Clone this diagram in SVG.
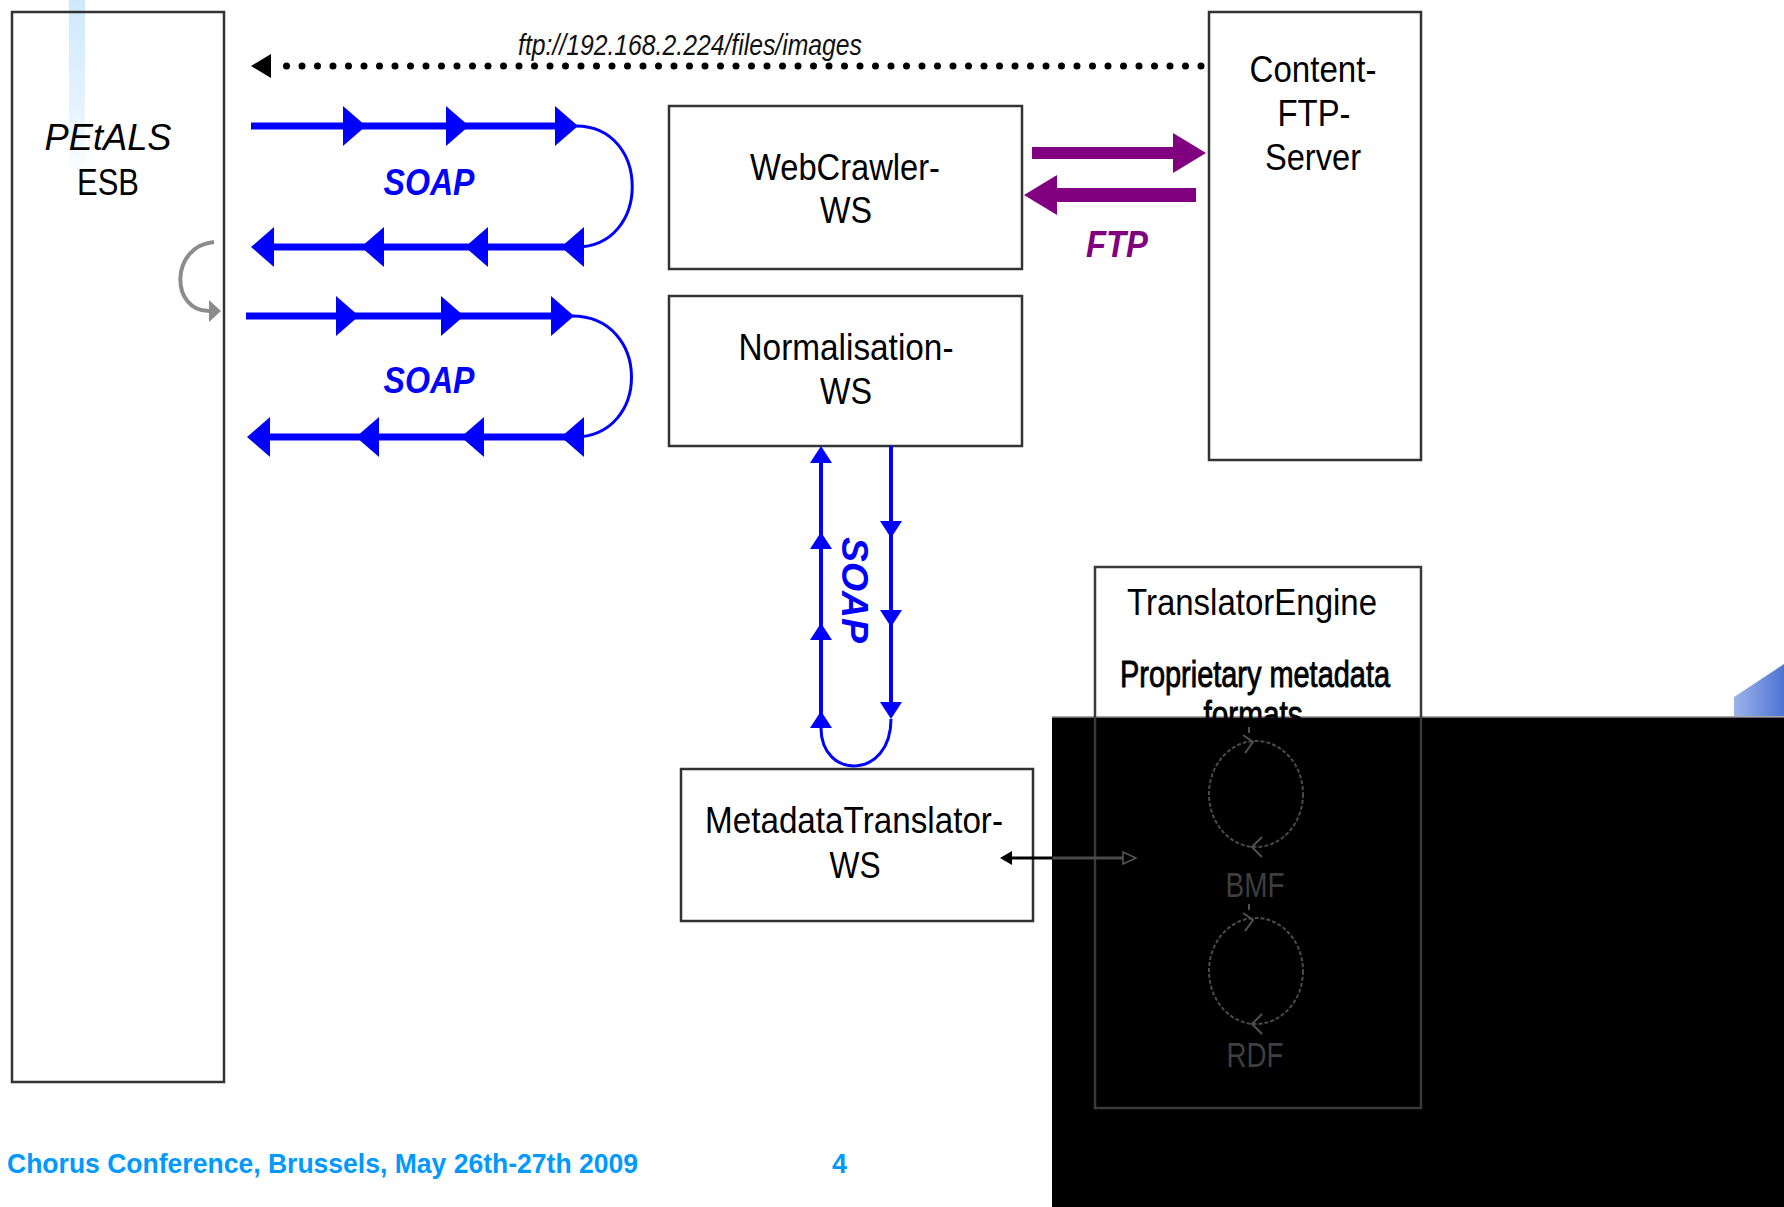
<svg xmlns="http://www.w3.org/2000/svg" width="1784" height="1207" viewBox="0 0 1784 1207">
<style>
.box{fill:none;stroke:#333;stroke-width:2.5}
.t{font-family:"Liberation Sans",Arial,sans-serif;font-size:37px;fill:#000;text-anchor:middle}
.soap{font-family:"Liberation Sans",Arial,sans-serif;font-size:37px;font-weight:bold;font-style:italic;fill:#0000ff;text-anchor:middle}
.ftp{font-family:"Liberation Sans",Arial,sans-serif;font-size:37px;font-weight:bold;font-style:italic;fill:#800080;text-anchor:middle}
.gr{font-family:"Liberation Sans",Arial,sans-serif;font-size:35px;fill:#3e3e3e;text-anchor:middle}
.foot{font-family:"Liberation Sans",Arial,sans-serif;font-size:27px;font-weight:bold;fill:#0099ff}
.bl{fill:none;stroke:#0000ff;stroke-width:7}
.bv{fill:none;stroke:#0000ff;stroke-width:4}
.bc{fill:none;stroke:#0000ff;stroke-width:3}
.cyc{fill:none;stroke:#4a4a4a;stroke-width:2;stroke-dasharray:4 2}
.chev{fill:none;stroke:#505050;stroke-width:2}
</style>
<defs>
<linearGradient id="bar" x1="0" y1="0" x2="0" y2="1">
<stop offset="0" stop-color="#cfe9fc"/>
<stop offset="0.6" stop-color="#e6f3fe"/>
<stop offset="1" stop-color="#ffffff"/>
</linearGradient>
<linearGradient id="blob" x1="0" y1="0" x2="1" y2="0">
<stop offset="0" stop-color="#9db3ea"/>
<stop offset="1" stop-color="#4d74d2"/>
</linearGradient>
<linearGradient id="dbl" gradientUnits="userSpaceOnUse" x1="1000" y1="0" x2="1140" y2="0">
<stop offset="0.37" stop-color="#000"/>
<stop offset="0.38" stop-color="#4a4a4a"/>
</linearGradient>
<marker id="bh" markerUnits="userSpaceOnUse" markerWidth="24" markerHeight="40" viewBox="0 0 24 40" refX="0" refY="20" orient="auto">
<path d="M0,0 L23,20 L0,40 z" fill="#0000ff"/>
</marker>
<marker id="vh" markerUnits="userSpaceOnUse" markerWidth="18" markerHeight="22" viewBox="0 0 18 22" refX="0" refY="11" orient="auto">
<path d="M0,0 L17,11 L0,22 z" fill="#0000ff"/>
</marker>
<marker id="ph" markerUnits="userSpaceOnUse" markerWidth="34" markerHeight="40" viewBox="0 0 34 40" refX="0" refY="20" orient="auto">
<path d="M0,0 L33,20 L0,40 z" fill="#800080"/>
</marker>
<marker id="dh" markerUnits="userSpaceOnUse" markerWidth="21" markerHeight="24" viewBox="0 0 21 24" refX="0" refY="12" orient="auto">
<path d="M0,0 L20,12 L0,24 z" fill="#000"/>
</marker>
<marker id="gh" markerUnits="userSpaceOnUse" markerWidth="13" markerHeight="22" viewBox="0 0 13 22" refX="0" refY="11" orient="auto">
<path d="M0,0 L12,11 L0,22 z" fill="#8c8c8c"/>
</marker>
<marker id="kh" markerUnits="userSpaceOnUse" markerWidth="13" markerHeight="14" viewBox="0 0 13 14" refX="0" refY="7" orient="auto-start-reverse">
<path d="M0,0 L12,7 L0,14 z" fill="#000"/>
</marker>
<marker id="oh" markerUnits="userSpaceOnUse" markerWidth="16" markerHeight="16" viewBox="0 0 16 16" refX="1" refY="8" orient="auto">
<path d="M1,2 L14,8 L1,14 z" fill="#000" stroke="#555" stroke-width="1.5"/>
</marker>
</defs>
<rect x="0" y="0" width="1784" height="1207" fill="#fff"/>
<rect x="69" y="0" width="16" height="180" fill="url(#bar)"/>
<g id="backdrop">
<rect x="1052" y="717" width="732" height="490" fill="#000"/>
<line x1="1052" y1="717" x2="1784" y2="717" stroke="#8a8a8a" stroke-width="1.5"/>
<polygon points="1734,697 1784,664 1784,716 1734,716" fill="url(#blob)"/>
</g>

<g id="petals">
<rect class="box" x="12" y="12" width="212" height="1070"/>
<text class="t" x="108" y="150" font-size="42" font-style="italic" textLength="127" lengthAdjust="spacingAndGlyphs">PEtALS</text>
<text class="t" x="108" y="195" textLength="62" lengthAdjust="spacingAndGlyphs">ESB</text>
</g>

<g id="webcrawler">
<rect class="box" x="669" y="106" width="353" height="163"/>
<text class="t" x="845" y="180" textLength="190" lengthAdjust="spacingAndGlyphs">WebCrawler-</text>
<text class="t" x="846" y="223" textLength="52" lengthAdjust="spacingAndGlyphs">WS</text>
</g>

<g id="normalisation">
<rect class="box" x="669" y="296" width="353" height="150"/>
<text class="t" x="846" y="360" textLength="215" lengthAdjust="spacingAndGlyphs">Normalisation-</text>
<text class="t" x="846" y="404" textLength="52" lengthAdjust="spacingAndGlyphs">WS</text>
</g>

<g id="contentftp">
<rect class="box" x="1209" y="12" width="212" height="448"/>
<text class="t" x="1313" y="82" textLength="127" lengthAdjust="spacingAndGlyphs">Content-</text>
<text class="t" x="1314" y="126" textLength="73" lengthAdjust="spacingAndGlyphs">FTP-</text>
<text class="t" x="1313" y="170" textLength="96" lengthAdjust="spacingAndGlyphs">Server</text>
</g>

<g id="metadatatranslator">
<rect class="box" x="681" y="769" width="352" height="152"/>
<text class="t" x="854" y="833" textLength="298" lengthAdjust="spacingAndGlyphs">MetadataTranslator-</text>
<text class="t" x="855" y="878" textLength="51" lengthAdjust="spacingAndGlyphs">WS</text>
</g>

<g id="translatorengine">
<rect x="1095" y="567" width="326" height="541" fill="none" stroke="#3a3a3a" stroke-width="2.5"/>
<text class="t" x="1252" y="615" textLength="250" lengthAdjust="spacingAndGlyphs">TranslatorEngine</text>
<text class="t" x="1255" y="687" font-size="35" stroke="#000" stroke-width="0.9" textLength="270" lengthAdjust="spacingAndGlyphs">Proprietary metadata</text>
<text class="t" x="1253" y="727" font-size="35" stroke="#000" stroke-width="0.9" textLength="99" lengthAdjust="spacingAndGlyphs">formats</text>
<line class="chev" x1="1249" y1="727" x2="1249" y2="733"/>
<ellipse class="cyc" cx="1256" cy="794" rx="47" ry="53"/>
<path class="chev" d="M1243,735 L1253,742 L1245,753"/>
<path class="chev" d="M1262,837 L1252,847 L1262,857"/>
<text class="gr" x="1255" y="897" textLength="59" lengthAdjust="spacingAndGlyphs">BMF</text>
<line class="chev" x1="1249" y1="904" x2="1249" y2="910"/>
<ellipse class="cyc" cx="1256" cy="971" rx="47" ry="53"/>
<path class="chev" d="M1243,913 L1253,920 L1245,931"/>
<path class="chev" d="M1262,1014 L1252,1024 L1262,1034"/>
<text class="gr" x="1255" y="1067" textLength="57" lengthAdjust="spacingAndGlyphs">RDF</text>
</g>

<g id="connectors">
<line x1="1201" y1="66" x2="271" y2="66" stroke="#000" stroke-width="7" stroke-linecap="round" stroke-dasharray="0 15.5" marker-end="url(#dh)"/>
<text x="518" y="55" font-family="Liberation Sans, Arial, sans-serif" font-size="29" font-style="italic" fill="#111" textLength="344" lengthAdjust="spacingAndGlyphs">ftp://192.168.2.224/files/images</text>

<polyline class="bl" points="251,126 343,126 446,126 555,126" marker-mid="url(#bh)" marker-end="url(#bh)"/>
<path class="bc" d="M576,126 C651,126 651,247 576,247"/>
<polyline class="bl" points="584,247 488,247 384,247 274,247" marker-start="url(#bh)" marker-mid="url(#bh)" marker-end="url(#bh)"/>
<text class="soap" x="429" y="195" textLength="91" lengthAdjust="spacingAndGlyphs">SOAP</text>

<path d="M214,242 C170,246 170,311 209,311" fill="none" stroke="#8c8c8c" stroke-width="4" marker-end="url(#gh)"/>

<polyline class="bl" points="246,316 336,316 441,316 551,316" marker-mid="url(#bh)" marker-end="url(#bh)"/>
<path class="bc" d="M572,316 C651,316 651,437 574,437"/>
<polyline class="bl" points="584,437 484,437 379,437 270,437" marker-start="url(#bh)" marker-mid="url(#bh)" marker-end="url(#bh)"/>
<text class="soap" x="429" y="393" textLength="91" lengthAdjust="spacingAndGlyphs">SOAP</text>

<line x1="1032" y1="153" x2="1173" y2="153" stroke="#800080" stroke-width="12" marker-end="url(#ph)"/>
<line x1="1196" y1="195" x2="1057" y2="195" stroke="#800080" stroke-width="14" marker-end="url(#ph)"/>
<text class="ftp" x="1117" y="257" textLength="62" lengthAdjust="spacingAndGlyphs">FTP</text>

<polyline class="bv" points="821,728 821,640 821,549 821,463" marker-start="url(#vh)" marker-mid="url(#vh)" marker-end="url(#vh)"/>
<polyline class="bv" points="891,446 891,521 891,610 891,702" marker-mid="url(#vh)" marker-end="url(#vh)"/>
<path class="bc" d="M821,728 C821,780 891,780 891,719"/>
<text class="soap" transform="translate(842,590) rotate(90)" font-size="31" textLength="106" lengthAdjust="spacingAndGlyphs">SOAP</text>

<line x1="1012" y1="858" x2="1123" y2="858" stroke="url(#dbl)" stroke-width="3" marker-start="url(#kh)" marker-end="url(#oh)"/>
</g>

<g id="footer">
<text class="foot" x="7" y="1173" textLength="631" lengthAdjust="spacingAndGlyphs">Chorus Conference, Brussels, May 26th-27th 2009</text>
<text class="foot" x="832" y="1173">4</text>
</g>
</svg>
